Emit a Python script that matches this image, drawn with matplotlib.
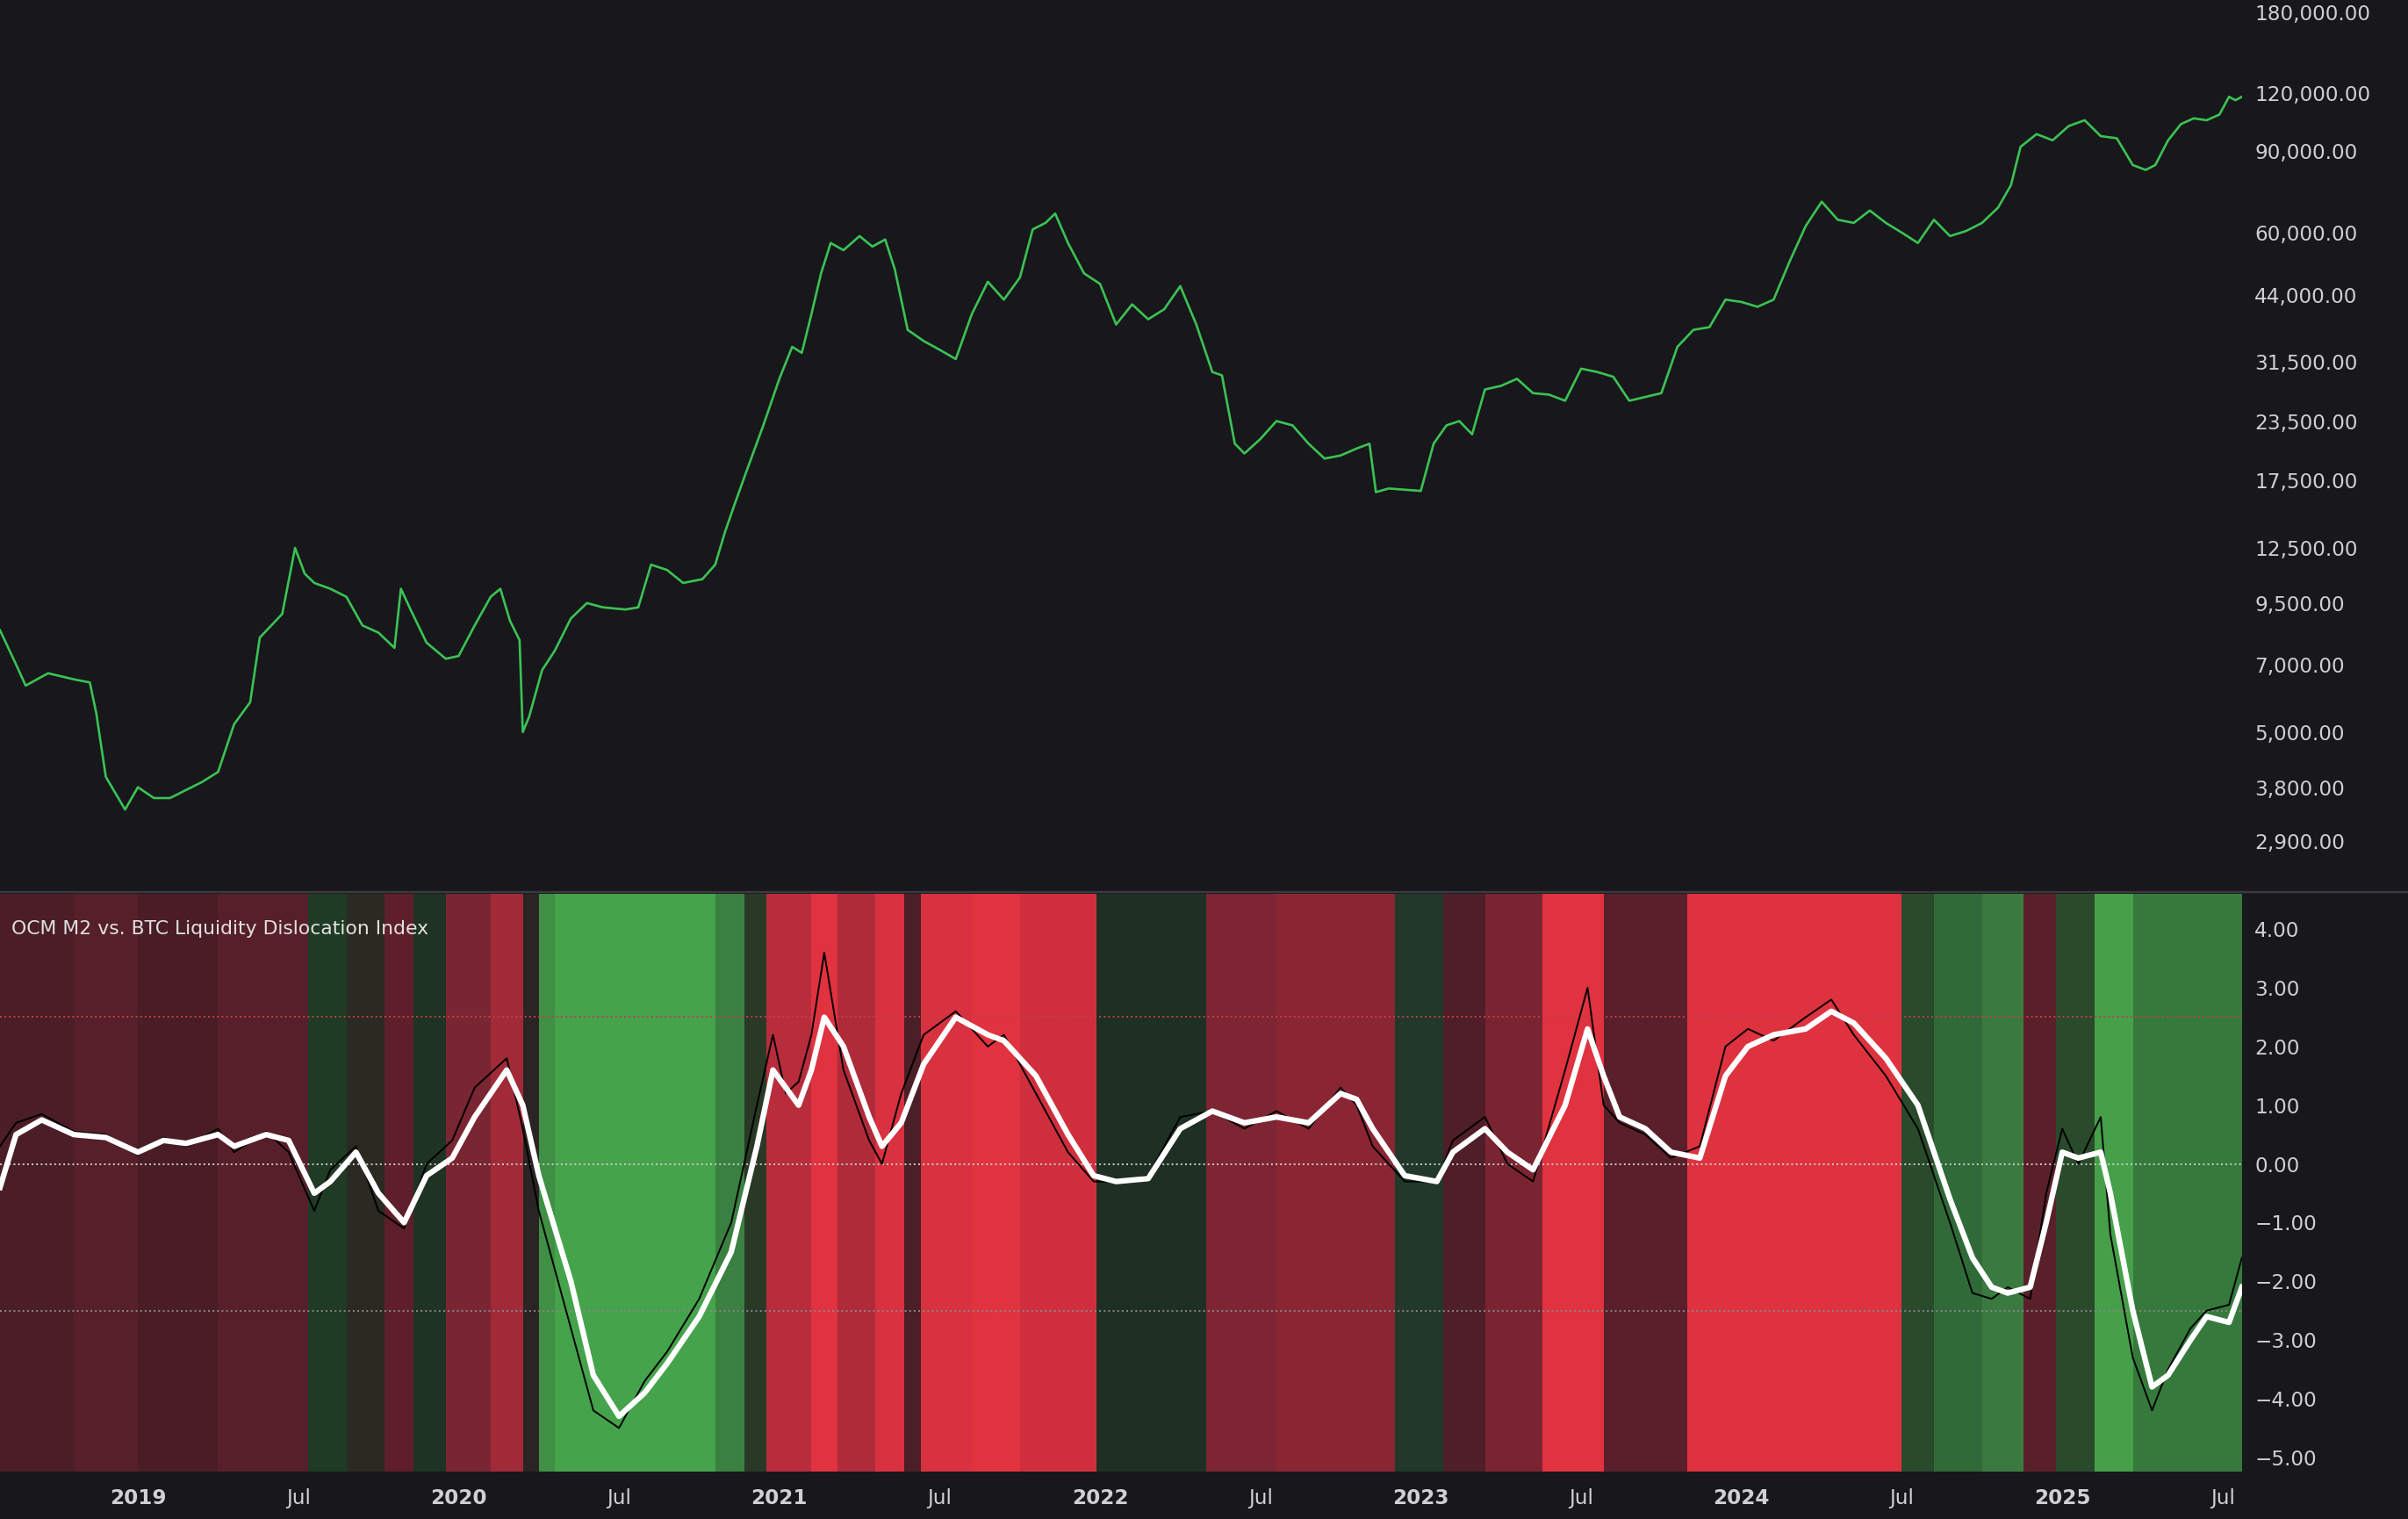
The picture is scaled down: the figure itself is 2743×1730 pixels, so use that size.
import numpy as np
import matplotlib.pyplot as plt
from matplotlib.ticker import FixedLocator, NullLocator

# x values are fractional years
price_t = [2018.57, 2018.62, 2018.65, 2018.72, 2018.8, 2018.85, 2018.87, 2018.9, 2018.96, 2019.0, 2019.05,
           2019.1, 2019.2, 2019.25, 2019.3, 2019.35, 2019.38, 2019.45, 2019.49, 2019.52, 2019.55, 2019.6,
           2019.65, 2019.7, 2019.75, 2019.8, 2019.82, 2019.85, 2019.9, 2019.96, 2020.0, 2020.05, 2020.1,
           2020.13, 2020.16, 2020.19, 2020.2, 2020.22, 2020.26, 2020.3, 2020.35, 2020.4, 2020.45, 2020.52,
           2020.56, 2020.6, 2020.65, 2020.7, 2020.76, 2020.8, 2020.83, 2020.86, 2020.9, 2020.95, 2021.0,
           2021.04, 2021.07, 2021.1, 2021.13, 2021.16, 2021.2, 2021.25, 2021.29, 2021.33, 2021.36, 2021.4,
           2021.45, 2021.5, 2021.55, 2021.6, 2021.65, 2021.7, 2021.75, 2021.79, 2021.83, 2021.86, 2021.9,
           2021.95, 2022.0, 2022.05, 2022.1, 2022.15, 2022.2, 2022.25, 2022.3, 2022.35, 2022.38, 2022.42,
           2022.45, 2022.5, 2022.55, 2022.6, 2022.65, 2022.7, 2022.75, 2022.8, 2022.84, 2022.86, 2022.9,
           2022.95, 2023.0, 2023.04, 2023.08, 2023.12, 2023.16, 2023.2, 2023.25, 2023.3, 2023.35, 2023.4,
           2023.45, 2023.5, 2023.55, 2023.6, 2023.65, 2023.7, 2023.75, 2023.8, 2023.85, 2023.9, 2023.95,
           2024.0, 2024.05, 2024.1, 2024.15, 2024.2, 2024.25, 2024.3, 2024.35, 2024.4, 2024.45, 2024.5,
           2024.55, 2024.6, 2024.65, 2024.7, 2024.75, 2024.8, 2024.84, 2024.87, 2024.92, 2024.97, 2025.02,
           2025.07, 2025.12, 2025.17, 2025.22, 2025.26, 2025.29, 2025.33, 2025.37, 2025.41, 2025.45,
           2025.49, 2025.52, 2025.54, 2025.56]
price_v = [8300, 7000, 6300, 6700, 6500, 6400, 5500, 4000, 3400, 3800, 3600,
           3600, 3900, 4100, 5200, 5800, 8000, 9000, 12500, 11000, 10500, 10200,
           9800, 8500, 8200, 7600, 10200, 9200, 7800, 7200, 7300, 8500, 9800,
           10200, 8700, 7900, 5000, 5400, 6800, 7500, 8800, 9500, 9300, 9200,
           9300, 11500, 11200, 10500, 10700, 11500, 13500, 15500, 18500, 23000, 29000,
           34000, 33000, 40000, 49000, 57000, 55000, 59000, 56000, 58000, 50000, 37000,
           35000, 33500, 32000, 40000, 47000, 43000, 48000, 61000, 63000, 66000, 57000,
           49000, 46500, 38000, 42000, 39000, 41000, 46000, 38000, 30000, 29500, 21000,
           20000, 21500, 23500, 23000, 21000, 19500, 19800, 20500, 21000, 16500, 16800,
           16700, 16600, 21000, 23000, 23500, 22000, 27500, 28000, 29000, 27000, 26800,
           26000, 30500, 30000, 29300, 26000, 26500, 27000, 34000, 37000, 37500, 43000,
           42500, 41500, 43000, 52000, 62000, 70000, 64000, 63000, 67000, 63000, 60000,
           57000, 64000, 59000, 60500, 63000, 68000, 76000, 92000, 98000, 95000, 102000,
           105000, 97000, 96000, 84000, 82000, 84000, 95000, 103000, 106000, 105000,
           108000, 118000, 116000, 118000]

osc_t = [2018.57, 2018.62, 2018.7, 2018.8, 2018.9, 2019.0, 2019.08, 2019.15, 2019.25, 2019.3, 2019.4,
         2019.47, 2019.55, 2019.6, 2019.68, 2019.75, 2019.83, 2019.9, 2019.98, 2020.05, 2020.15, 2020.2,
         2020.25, 2020.35, 2020.42, 2020.5, 2020.58, 2020.65, 2020.75, 2020.85, 2020.93, 2020.98, 2021.02,
         2021.06, 2021.1, 2021.14, 2021.2, 2021.28, 2021.32, 2021.38, 2021.45, 2021.55, 2021.65, 2021.7,
         2021.8, 2021.9, 2021.98, 2022.05, 2022.15, 2022.25, 2022.35, 2022.45, 2022.55, 2022.65, 2022.75,
         2022.8, 2022.85, 2022.95, 2023.05, 2023.1, 2023.2, 2023.27, 2023.35, 2023.45, 2023.52, 2023.57,
         2023.62, 2023.7, 2023.78, 2023.87, 2023.95, 2024.02, 2024.1, 2024.2, 2024.28, 2024.35, 2024.45,
         2024.55, 2024.6, 2024.65, 2024.72, 2024.78, 2024.83, 2024.9, 2024.95, 2025.0, 2025.05, 2025.12,
         2025.15, 2025.22, 2025.28, 2025.33, 2025.4, 2025.45, 2025.52, 2025.56]
osc_smooth = [-0.4, 0.5, 0.75, 0.5, 0.45, 0.2, 0.4, 0.35, 0.5, 0.3, 0.5,
              0.4, -0.5, -0.3, 0.2, -0.5, -1.0, -0.2, 0.1, 0.8, 1.6, 1.0,
              -0.2, -2.0, -3.6, -4.3, -3.9, -3.4, -2.6, -1.5, 0.3, 1.6, 1.3,
              1.0, 1.6, 2.5, 2.0, 0.8, 0.3, 0.7, 1.7, 2.5, 2.2, 2.1,
              1.5, 0.5, -0.2, -0.3, -0.25, 0.6, 0.9, 0.7, 0.8, 0.7, 1.2,
              1.1, 0.6, -0.2, -0.3, 0.2, 0.6, 0.2, -0.1, 1.0, 2.3, 1.5,
              0.8, 0.6, 0.2, 0.1, 1.5, 2.0, 2.2, 2.3, 2.6, 2.4, 1.8,
              1.0, 0.2, -0.6, -1.6, -2.1, -2.2, -2.1, -1.0, 0.2, 0.1, 0.2,
              -0.5, -2.5, -3.8, -3.6, -3.0, -2.6, -2.7, -2.1]
osc_raw = [0.3, 0.7, 0.85, 0.55, 0.5, 0.15, 0.45, 0.3, 0.6, 0.2, 0.55,
           0.2, -0.8, -0.1, 0.3, -0.8, -1.1, 0.0, 0.4, 1.3, 1.8, 0.6,
           -0.8, -2.8, -4.2, -4.5, -3.7, -3.2, -2.3, -1.0, 1.0, 2.2, 1.2,
           1.4, 2.2, 3.6, 1.6, 0.4, 0.0, 1.2, 2.2, 2.6, 2.0, 2.2,
           1.2, 0.2, -0.3, -0.3, -0.2, 0.8, 0.9, 0.6, 0.9, 0.6, 1.3,
           1.0, 0.3, -0.3, -0.3, 0.4, 0.8, 0.0, -0.3, 1.6, 3.0, 1.0,
           0.7, 0.5, 0.1, 0.3, 2.0, 2.3, 2.1, 2.5, 2.8, 2.2, 1.5,
           0.6, -0.2, -1.0, -2.2, -2.3, -2.1, -2.3, -0.5, 0.6, 0.0, 0.8,
           -1.2, -3.3, -4.2, -3.5, -2.8, -2.5, -2.4, -1.6]

# background regimes: start year, end year, colour
band_start = [2018.57, 2018.8, 2019.0, 2019.25, 2019.53, 2019.65, 2019.77, 2019.86, 2019.96, 2020.1, 2020.2,
              2020.25, 2020.3, 2020.8, 2020.89, 2020.96, 2021.1, 2021.18, 2021.3, 2021.39, 2021.44, 2021.6,
              2021.75, 2021.99, 2022.33, 2022.55, 2022.92, 2023.07, 2023.2, 2023.38, 2023.57, 2023.83,
              2024.5, 2024.6, 2024.75, 2024.88, 2024.98, 2025.1, 2025.22]
band_end = band_start[1:] + [2025.56]
band_color = ['#4b1e27', '#561f29', '#4a1d26', '#571f2a', '#1f3a25', '#2b2a22', '#5e1f2a', '#1e3323', '#7a2532',
              '#a12a38', '#2a2424', '#3f8f45', '#45a34b', '#3a8040', '#2a3826', '#b82c3c', '#e0323f', '#b02b3a',
              '#d9313f', '#4a1f27', '#d8313f', '#e0333f', '#cf2f3d', '#1e3024', '#7d2532', '#8a2634', '#21382a',
              '#4f1e28', '#7a2431', '#e0323f', '#5a1f2a', '#df323f', '#2a4a2c', '#2f6a38', '#3a7a40', '#5a2029',
              '#2a4a2c', '#45a049', '#357a3c']

price_ticks = [2900, 3800, 5000, 7000, 9500, 12500, 17500, 23500, 31500, 44000, 60000, 90000, 120000, 180000]
osc_ticks = [4, 3, 2, 1, 0, -1, -2, -3, -4, -5]
year_ticks = [2019, 2020, 2021, 2022, 2023, 2024, 2025]

bg = '#17171c'
txt = '#d0d0d4'
fig = plt.figure(figsize=(2743 / 175, 1730 / 175), dpi=175, facecolor=bg)
ax1 = fig.add_axes([0, 0.4136, 0.931, 0.5864], facecolor=bg)
ax2 = fig.add_axes([0, 0.0313, 0.931, 0.3802], facecolor=bg)

ax1.plot(price_t, price_v, color='#3cc153', lw=1.1)
ax1.set_yscale('log')
ax1.set_ylim(2270, 191000)
ax1.set_xlim(2018.57, 2025.56)
ax1.yaxis.tick_right()
ax1.yaxis.set_major_locator(FixedLocator(price_ticks))
ax1.yaxis.set_minor_locator(NullLocator())
ax1.set_yticklabels([f'{v:,.2f}' for v in price_ticks])
ax1.set_xticks([])

for s, e, c in zip(band_start, band_end, band_color):
    ax2.axvspan(s, e, color=c, lw=0)
ax2.axhline(0, color='#cccccc', ls=':', lw=0.8)
ax2.axhline(2.5, color='#c0404a', ls=':', lw=0.8)
ax2.axhline(-2.5, color='#888888', ls=':', lw=0.8)
ax2.plot(osc_t, osc_raw, color='black', lw=0.8)
ax2.plot(osc_t, osc_smooth, color='white', lw=2.6)
ax2.set_xlim(2018.57, 2025.56)
ax2.set_ylim(-5.24, 4.6)
ax2.yaxis.tick_right()
ax2.set_yticks(osc_ticks)
ax2.set_yticklabels([f'{v:.2f}'.replace('-', '\u2212') for v in osc_ticks])
xt = []
xl = []
for y in year_ticks:
    xt += [y, y + 0.5]
    xl += [str(y), 'Jul']
ax2.set_xticks(xt)
ax2.set_xticklabels(xl)
for lab, s in zip(ax2.get_xticklabels(), xl):
    if s != 'Jul':
        lab.set_fontweight('bold')
ax2.text(0.005, 0.955, 'OCM M2 vs. BTC Liquidity Dislocation Index', transform=ax2.transAxes,
         color='#e0e0e0', fontsize=9, va='top')

for ax in (ax1, ax2):
    for sp in ax.spines.values():
        sp.set_visible(False)
    ax.tick_params(colors=txt, labelsize=9.5, length=0, pad=6)
ax2.tick_params(axis='x', labelsize=9.5, pad=8)
fig.add_artist(plt.Line2D([0, 1], [0.4125, 0.4125], color='#3a3a40', lw=1))

fig.savefig('out.png', dpi=175, facecolor=bg)
